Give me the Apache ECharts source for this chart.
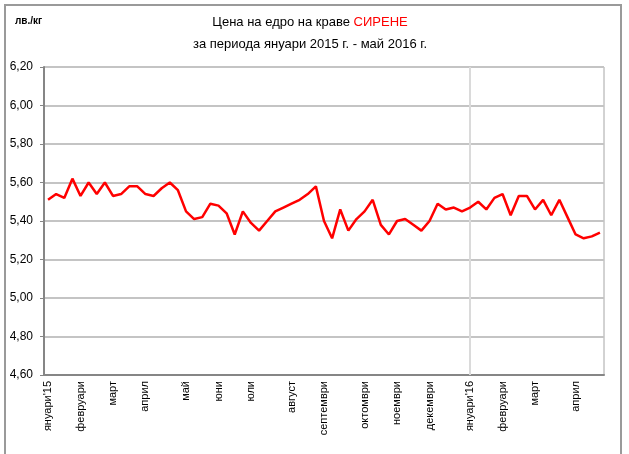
<!DOCTYPE html>
<html><head><meta charset="utf-8">
<script src="https://cdn.jsdelivr.net/npm/echarts@6/dist/echarts.min.js"></script>
<style>html,body{margin:0;padding:0;background:#fff}#c{width:629px;height:454px}</style>
</head><body><div id="c"></div>
<script>
const monthNames = ["януари'15","февруари","март","април","май","юни","юли","август","септември","октомври","ноември","декември","януари'16","февруари","март","април"];
const weeksPerMonth = [4,4,4,5,4,4,5,4,5,4,4,5,4,4,5,4];
const prices = [5.51,5.54,5.52,5.62,5.53,5.60,5.54,5.60,5.53,5.54,
5.58,5.58,5.54,5.53,5.57,5.60,5.56,5.45,5.41,5.42,
5.49,5.48,5.44,5.33,5.45,5.39,5.35,5.40,5.45,5.47,
5.49,5.51,5.54,5.58,5.40,5.31,5.46,5.35,5.41,5.45,
5.51,5.38,5.33,5.40,5.41,5.38,5.35,5.40,5.49,5.46,
5.47,5.45,5.47,5.50,5.46,5.52,5.54,5.43,5.53,5.53,
5.46,5.51,5.43,5.51,5.42,5.33,5.31,5.32,5.34];
const yMin = 4.6, yMax = 6.2, yStep = 0.2;
const yearSplitIndex = 52;

const categories = [];
monthNames.forEach((m, i) => {
  for (let w = 0; w < weeksPerMonth[i]; w++) categories.push(w === 0 ? m : '');
});

const chart = echarts.init(document.getElementById('c'), null, {renderer: 'canvas'});
const font = '"Liberation Sans", Arial, sans-serif';
chart.setOption({
  animation: false,
  backgroundColor: '#fff',
  textStyle: {fontFamily: font},
  grid: {left: 44, right: 25, top: 67, bottom: 79, show: true, borderColor: '#a6a6a6', borderWidth: 1},
  graphic: [
    {type: 'rect', shape: {x: 5, y: 5, width: 616, height: 470}, style: {fill: 'none', stroke: '#9a9a9a', lineWidth: 2}, silent: true},
    {type: 'text', style: {text: 'лв./кг', x: 15, y: 21, fontSize: 10, fontWeight: 'bold', fontFamily: font, fill: '#000', verticalAlign: 'middle'}},
    {type: 'text', style: {
      text: '{a|Цена на едро на краве }{b|СИРЕНЕ}', x: 310, y: 22, align: 'center', verticalAlign: 'middle',
      rich: {a: {fontSize: 13, fontFamily: font, fill: '#000'}, b: {fontSize: 13, fontFamily: font, fill: '#ff0000'}}
    }},
    {type: 'text', style: {text: 'за периода януари 2015 г. - май 2016 г.', x: 310, y: 44, align: 'center', verticalAlign: 'middle', fontSize: 13, fontFamily: font, fill: '#000'}}
  ],
  xAxis: {
    type: 'category',
    data: categories,
    boundaryGap: true,
    axisLine: {lineStyle: {color: '#868686', width: 2}},
    axisTick: {show: false},
    axisLabel: {interval: 0, rotate: 90, fontSize: 11, color: '#000', margin: 6, fontFamily: font},
    splitLine: {show: false}
  },
  yAxis: {
    type: 'value',
    min: yMin, max: yMax, interval: yStep,
    axisLine: {show: true, lineStyle: {color: '#868686', width: 2}},
    axisTick: {show: true, length: 4, lineStyle: {color: '#868686'}},
    axisLabel: {fontSize: 12, color: '#000', margin: 11, fontFamily: font,
      formatter: (v) => v.toFixed(2).replace('.', ',')},
    splitLine: {lineStyle: {color: '#c4c4c4', width: 2}}
  },
  series: [{
    type: 'line',
    data: prices,
    symbol: 'none',
    lineStyle: {color: '#ff0000', width: 2.5},
    itemStyle: {color: '#ff0000'},
    z: 3,
    markLine: {
      silent: true, symbol: 'none', z: 1,
      label: {show: false},
      lineStyle: {color: '#dadada', width: 2, type: 'solid'},
      data: [{xAxis: yearSplitIndex}]
    }
  }]
});
</script></body></html>
